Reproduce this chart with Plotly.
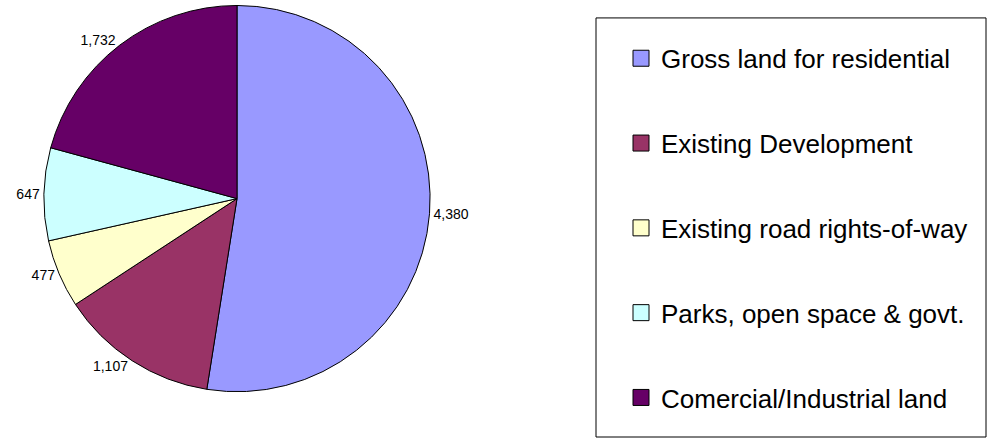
import plotly.graph_objects as go

categories = ["Gross land for residential", "Existing Development",
              "Existing road rights-of-way", "Parks, open space & govt.",
              "Comercial/Industrial land"]
values = [4380, 1107, 477, 647, 1732]
colors = ["#9999FF", "#993366", "#FFFFCC", "#CCFFFF", "#660066"]

W, H = 987, 438
FONT = "Liberation Sans, Arial, sans-serif"

fig = go.Figure()
fig.add_trace(go.Pie(
    labels=categories, values=values, sort=False, direction="clockwise", rotation=0,
    marker=dict(colors=colors, line=dict(color="black", width=1)),
    texttemplate="%{value:,}", textposition="outside",
    textfont=dict(size=14, color="black", family=FONT),
    domain=dict(x=[43 / W, 431 / W], y=[1 - 391.5 / H, 1 - 3.5 / H]),
    showlegend=False, hoverinfo="skip",
))
for cat, col in zip(categories, colors):
    fig.add_trace(go.Scatter(
        x=[None], y=[None], mode="markers", name=cat, legendgroup=cat,
        marker=dict(symbol="square", size=16, color=col, line=dict(color="black", width=1)),
    ))

fig.add_shape(type="rect", xref="paper", yref="paper",
              x0=596 / W, x1=986 / W, y0=1 - 437 / H, y1=1 - 16 / H,
              line=dict(color="black", width=1))

fig.update_layout(
    width=W, height=H,
    margin=dict(l=0, r=0, t=0, b=0),
    paper_bgcolor="white", plot_bgcolor="white",
    font=dict(family=FONT, color="black"),
    xaxis=dict(visible=False), yaxis=dict(visible=False),
    legend=dict(x=621 / W, y=1 - 33 / H, xanchor="left", yanchor="top",
                font=dict(size=26, color="black", family=FONT),
                tracegroupgap=48, itemsizing="trace",
                bgcolor="rgba(0,0,0,0)", borderwidth=0),
)
fig.write_html("out.html", config={"displayModeBar": False},
               post_script="document.body.style.margin='0';document.body.style.overflow='hidden';")
